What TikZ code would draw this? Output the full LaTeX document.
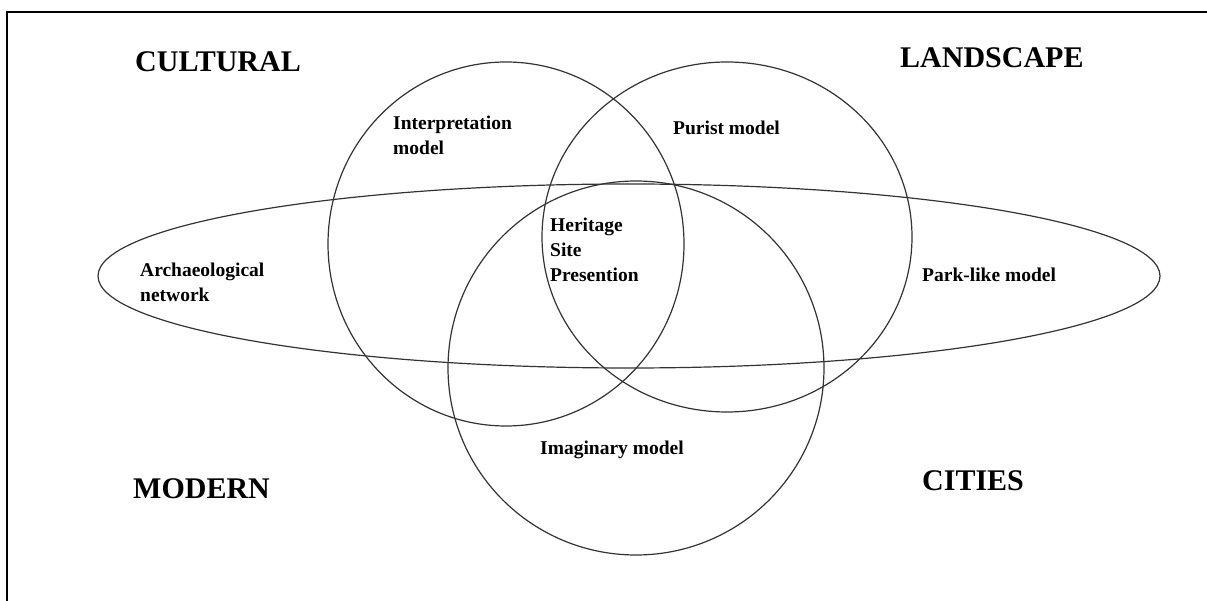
\documentclass[tikz,border=0pt]{standalone}
\usepackage{fontspec}
\setmainfont{Liberation Serif}
\begin{document}
\begin{tikzpicture}[x=1pt,y=-1pt,
  ring/.style={draw=black!80,line width=1.2pt},
  frameline/.style={draw=black,line width=2.6pt},
  title/.style={inner sep=0pt,anchor=base west,font=\fontsize{30}{34}\selectfont\bfseries},
  lbl/.style={inner sep=0pt,anchor=base west,align=left,font=\fontsize{19.5}{25}\selectfont\bfseries}]
\useasboundingbox (0,0) rectangle (1207,601);
\fill[white] (0,0) rectangle (1207,601);
% frame (top and left edges visible)
\coordinate (fTL) at (7,12);
\coordinate (fTR) at (1207,12);
\coordinate (fBL) at (7,601);
\draw[frameline] (fTR) -- (fTL) -- (fBL);
% shapes
\draw[ring] (506,244) ellipse[x radius=178,y radius=182];
\draw[ring] (727,237) ellipse[x radius=185,y radius=175];
\draw[ring] (636,368) ellipse[x radius=188,y radius=187];
\draw[ring] (629,276) ellipse[x radius=531,y radius=92];
% titles
\node[title] (cult) at (135,72) {CULTURAL};
\node[title] (land) at (900,68) {LANDSCAPE};
\node[title] (mod) at (133,498) {MODERN};
\node[title] (cit) at (922,490) {CITIES};
% labels (base = baseline of the last line)
\node[lbl] (interp) at (393,155) {Interpretation\\model};
\node[lbl] (purist) at (673,135) {Purist model};
\node[lbl] (herit) at (550,282) {Heritage\\Site\\Presention};
\node[lbl] (arch) at (140,302) {Archaeological\\network};
\node[lbl] (park) at (922,282) {Park-like model};
\node[lbl] (imag) at (540,454) {Imaginary model};
\end{tikzpicture}
\end{document}
